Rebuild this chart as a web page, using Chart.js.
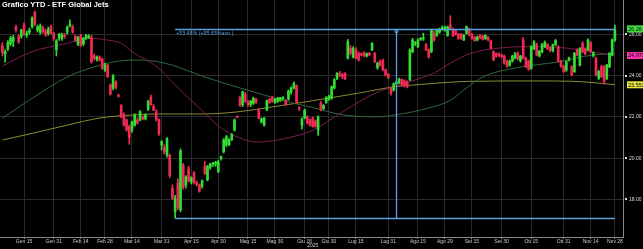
<!DOCTYPE html>
<html>
<head>
<meta charset="utf-8">
<script src="https://cdn.jsdelivr.net/npm/chart.js@4.4.1/dist/chart.umd.min.js"></script>
<style>
  html, body { margin: 0; padding: 0; background: #000; }
  #wrap { width: 643px; height: 249px; }
</style>
</head>
<body>
<div id="wrap"><canvas id="jetsChart" width="643" height="249"></canvas></div>
<script>
const chartTitle = 'Grafico YTD - ETF Global Jets';

// daily candles, one entry per trading day (Jan 2 .. Nov 28 2025)
const opens = [
  25.45,25.05,25.30,25.55,25.65,26.35,25.90,25.90,26.45,25.95,26.10,26.35,27.05,26.20,26.10,26.30,26.15,26.05,26.35,26.05,
  25.25,25.80,25.80,25.95,26.10,26.40,26.35,25.90,25.53,25.95,25.53,25.80,25.85,25.85,24.95,24.78,24.90,24.80,24.27,
  24.51,23.55,23.40,23.70,23.05,22.55,22.10,21.85,21.53,21.36,21.60,21.85,21.85,22.00,21.90,22.38,22.95,22.50,22.25,21.85,20.64,
  20.50,20.15,20.15,18.55,17.41,18.80,17.50,19.65,18.70,19.47,18.85,19.30,18.80,18.70,18.65,19.60,18.95,19.55,19.70,19.72,19.35,
  19.98,20.31,20.64,20.65,20.90,21.37,22.02,22.90,22.58,23.10,22.70,22.60,22.65,22.85,22.33,21.75,21.60,22.33,22.85,22.95,22.70,
  22.75,22.80,22.88,22.80,22.87,23.20,23.40,23.50,22.45,21.60,21.95,22.00,21.85,21.95,21.80,21.37,22.67,22.40,22.70,22.85,
  22.90,23.40,23.87,24.10,24.05,24.10,24.84,25.32,24.90,25.25,25.08,25.05,25.10,24.95,25.08,25.24,25.08,24.38,24.70,24.75,24.27,24.07,
  23.41,23.30,23.62,23.64,23.80,23.75,23.70,23.80,25.16,25.55,25.40,25.75,25.78,25.50,25.24,25.16,26.05,25.95,26.10,26.25,26.20,
  25.95,26.45,26.20,26.15,26.00,26.00,25.72,26.05,26.26,26.00,25.85,25.72,25.95,25.90,25.78,25.85,25.68,25.16,25.05,25.05,24.98,
  24.94,24.70,24.50,24.70,24.85,25.08,24.72,25.72,24.84,24.70,24.35,25.30,25.50,24.95,25.15,25.40,25.50,25.35,25.20,25.50,25.40,24.70,24.45,
  24.27,24.75,24.43,24.19,25.25,24.51,25.56,25.30,25.24,25.60,24.95,24.84,23.87,24.43,24.43,23.87,24.43,25.00,25.72
];
const highs = [
  25.60,25.25,25.70,25.90,25.95,26.45,26.00,26.25,26.55,26.15,26.30,26.85,27.12,26.45,26.50,26.40,26.25,26.35,26.45,26.10,
  25.75,26.05,26.05,26.05,26.40,26.70,26.45,25.95,25.90,26.00,25.85,26.00,25.98,25.95,25.05,24.95,24.95,24.85,24.60,
  24.55,23.60,24.05,23.75,23.10,22.60,22.20,21.90,21.60,21.80,22.15,21.95,22.30,22.05,22.15,22.80,23.05,22.60,22.35,21.90,20.85,
  20.65,21.00,20.20,18.70,18.20,19.00,20.45,19.75,19.15,19.60,19.10,19.35,18.90,18.75,18.95,19.85,19.65,19.75,19.80,19.85,19.90,
  20.10,20.95,21.10,20.95,21.20,21.90,22.05,23.00,23.25,23.20,22.80,22.80,22.95,22.90,22.40,21.95,21.98,22.82,22.90,23.00,22.90,
  22.95,22.95,22.98,22.85,23.30,23.45,23.70,23.55,22.50,21.95,22.38,22.05,21.90,22.00,21.85,22.05,22.75,22.60,22.98,23.05,
  23.50,23.85,24.15,24.20,24.10,24.15,25.75,25.45,25.40,25.35,25.15,25.10,25.15,25.10,25.12,25.60,25.12,24.65,24.75,24.80,24.32,24.10,
  23.45,23.65,23.72,23.88,23.85,23.80,23.75,25.30,25.80,25.65,25.78,25.85,26.05,25.55,25.30,26.25,26.15,26.25,26.30,26.40,26.40,
  26.40,26.90,26.30,26.20,26.05,26.05,26.00,26.40,26.30,26.05,25.90,25.92,26.00,25.95,25.98,25.90,25.72,25.20,25.10,25.10,25.05,
  25.00,24.75,24.75,24.98,25.12,25.15,24.98,25.85,24.90,24.75,25.45,25.70,25.58,25.22,25.55,25.68,25.55,25.40,25.52,25.75,25.45,24.75,24.50,
  24.72,24.90,24.48,25.12,25.30,25.36,25.65,25.35,25.78,25.65,25.15,24.90,24.25,24.50,24.48,24.55,25.12,25.78,26.45
];
const lows = [
  24.95,24.65,25.20,25.45,25.40,26.10,25.55,25.80,25.95,25.85,26.00,26.30,26.40,26.10,26.00,26.05,25.90,25.95,26.00,25.70,
  24.95,25.70,25.70,25.80,26.00,26.35,26.05,25.65,25.45,25.40,25.45,25.75,25.80,24.60,24.75,24.70,24.70,24.30,24.20,
  23.90,23.05,23.30,23.35,22.95,21.95,21.55,21.30,20.67,21.25,21.55,21.65,21.80,21.85,21.85,22.30,22.55,22.30,21.80,21.10,20.40,
  20.20,20.05,19.05,18.00,17.11,17.50,17.40,18.50,18.55,18.85,18.75,18.75,18.65,18.35,18.55,19.20,18.90,19.45,19.60,19.60,19.30,
  19.90,20.25,20.55,20.60,20.85,21.30,21.95,22.50,22.50,22.70,22.50,22.50,22.60,22.65,21.90,21.70,21.55,22.30,22.65,22.70,22.65,
  22.70,22.75,22.82,22.55,22.80,23.10,23.35,22.65,22.30,21.40,21.90,21.65,21.55,21.50,21.50,21.10,22.30,22.35,22.65,22.80,
  22.85,23.35,23.80,23.95,23.85,23.80,24.80,25.00,24.85,24.80,24.70,24.95,24.90,24.90,24.95,25.20,24.62,24.30,24.45,24.22,23.98,23.85,
  23.05,23.25,23.55,23.60,23.50,23.45,23.40,23.75,25.10,25.45,25.35,25.70,25.70,25.20,24.85,25.10,25.65,25.90,26.05,26.20,26.15,
  25.90,26.25,25.88,25.95,25.75,25.75,25.70,26.00,25.92,25.75,25.65,25.68,25.78,25.72,25.75,25.68,25.28,24.72,24.88,24.92,24.85,
  24.55,24.40,24.45,24.65,24.80,24.75,24.65,24.80,24.38,24.25,24.30,25.25,24.95,24.90,25.10,25.35,25.25,25.15,25.15,25.45,24.65,24.40,24.15,
  24.20,24.70,23.98,24.15,24.95,24.45,25.10,25.00,25.20,25.10,24.90,23.98,23.80,23.90,23.60,23.80,24.38,24.95,25.65
];
const closes = [
  25.10,25.15,25.60,25.80,25.85,26.20,25.65,26.20,26.05,26.05,26.20,26.80,26.50,26.35,26.40,26.10,26.00,26.25,26.05,25.80,
  25.68,26.00,25.98,25.90,26.35,26.48,26.10,25.70,25.85,25.47,25.80,25.95,25.90,24.67,24.85,24.90,24.75,24.37,24.51,
  23.95,23.10,24.00,23.40,23.00,22.00,21.60,21.37,21.00,21.75,22.10,21.70,22.25,21.90,22.10,22.74,22.60,22.33,21.85,21.17,20.80,
  20.30,20.95,19.15,18.06,18.06,17.60,20.35,18.60,19.10,18.90,19.05,18.80,18.72,18.40,18.90,19.27,19.60,19.72,19.76,19.80,19.83,
  20.07,20.88,21.04,20.90,21.15,21.85,21.98,22.58,23.20,22.75,22.55,22.75,22.90,22.70,21.93,21.90,21.93,22.77,22.70,22.75,22.85,
  22.90,22.92,22.94,22.60,23.25,23.40,23.60,22.70,22.40,21.90,22.33,21.70,21.60,21.53,21.55,22.00,22.35,22.55,22.93,23.00,
  23.46,23.80,24.10,24.00,23.95,23.85,25.64,25.08,25.32,24.84,24.76,25.00,24.95,25.05,25.00,25.56,24.67,24.60,24.50,24.27,24.03,23.90,
  23.14,23.60,23.68,23.83,23.55,23.50,23.45,25.24,25.72,25.60,25.72,25.80,25.82,25.24,24.90,26.20,25.72,26.20,26.25,26.32,26.35,
  26.35,26.30,25.92,26.00,25.80,25.80,25.95,26.37,25.97,25.80,25.70,25.88,25.82,25.76,25.94,25.72,25.32,24.76,24.94,24.98,24.92,
  24.60,24.45,24.70,24.94,25.05,24.80,24.94,24.84,24.43,24.30,25.40,25.62,25.00,25.18,25.50,25.60,25.30,25.20,25.50,25.70,24.70,24.45,24.20,
  24.67,24.85,24.03,25.08,25.00,25.32,25.16,25.05,25.72,25.16,25.10,24.03,24.19,23.95,23.70,24.51,25.08,25.72,26.26
];

// moving averages (trading-day index, value)
const ma50Idx = [0, 11, 24, 32, 39, 44, 48, 58, 64, 73, 81, 88, 94, 102, 110, 115, 126, 139, 145, 151, 160, 166, 173, 184, 197, 209, 219, 227];
const ma50Val = [24.46, 25.16, 25.56, 25.80, 25.72, 25.56, 25.16, 24.35, 23.54, 22.43, 21.46, 20.98, 20.78, 20.88, 21.12, 21.35, 22.24, 23.20, 23.45, 23.70, 24.13, 24.60, 25.05, 25.33, 25.40, 25.33, 25.14, 24.973];
const ma100Idx = [0, 11, 24, 34, 43, 51, 58, 63, 75, 88, 97, 106, 115, 126, 139, 146, 158, 166, 172, 178, 190, 206, 219, 227];
const ma100Val = [21.94, 22.90, 23.93, 24.42, 24.70, 24.75, 24.66, 24.50, 23.93, 23.40, 23.06, 22.72, 22.45, 22.10, 22.00, 22.10, 22.43, 22.80, 23.40, 23.93, 24.37, 24.66, 25.00, 25.05];
const ma200Idx = [0, 11, 24, 36, 48, 58, 75, 87, 100, 115, 132, 145, 158, 173, 197, 215, 227];
const ma200Val = [20.88, 21.20, 21.60, 21.94, 22.09, 22.14, 22.14, 22.24, 22.48, 22.78, 23.15, 23.45, 23.60, 23.72, 23.74, 23.70, 23.553];

// axis ticks
const xTickIdx = [8, 19, 29, 38, 48, 59, 70, 80, 91, 101, 112, 121, 131, 143, 154, 164, 174, 185, 196, 208, 218, 227];
const xTickLabels = ['Gen 15', 'Gen 31', 'Feb 14', 'Feb 28', 'Mar 14', 'Mar 31', 'Apr 15', 'Apr 30', 'Mag 15', 'Mag 30', 'Giu 16',
  'Giu 30', 'Lug 15', 'Lug 31', 'Ago 15', 'Ago 29', 'Set 15', 'Set 30', 'Ott 15', 'Ott 31', 'Nov 14', 'Nov 28'];
const yTicks = [18, 20, 22, 24, 26];
const yearLabel = '2025';
const yearLabelIdx = 115;

// low-to-last range measure
const rangeStart = 64, rangeEnd = 227, rangeMark = 146;
const rangeHigh = 26.26, rangeLow = 17.11;
const rangeText = '+53.48% (+95.63%ann.)';

const upColor = '#33dd33';
const downColor = '#ee2a55';
const fontFamily = '"Liberation Sans", Arial, sans-serif';

const tags = [
  { value: closes[closes.length - 1], text: closes[closes.length - 1].toFixed(2), bg: '#3fe03f' },
  { value: ma50Val[ma50Val.length - 1], text: '24.973', bg: '#ff33b0' },
  { value: ma200Val[ma200Val.length - 1], text: '23.553', bg: '#e6e640' }
];

const overlay = {
  id: 'overlay',
  beforeDraw(chart) {
    const ctx = chart.ctx;
    ctx.save();
    ctx.fillStyle = '#000';
    ctx.fillRect(0, 0, chart.width, chart.height);
    ctx.restore();
  },
  afterDraw(chart) {
    const { ctx, scales: { x, y } } = chart;
    ctx.save();

    ctx.font = 'bold 7.5px ' + fontFamily;
    ctx.fillStyle = '#ffffff';
    ctx.textBaseline = 'middle';
    ctx.textAlign = 'left';
    ctx.fillText(chartTitle, 2, 5);

    const x0 = x.getPixelForValue(rangeStart);
    const x1 = x.getPixelForValue(rangeEnd);
    const xm = Math.round(x.getPixelForValue(rangeMark)) + 0.5;
    const yt = Math.round(y.getPixelForValue(rangeHigh)) + 0.5;
    const yb = Math.round(y.getPixelForValue(rangeLow)) + 0.5;
    ctx.strokeStyle = '#5b9fe3';
    ctx.lineWidth = 1.3;
    ctx.beginPath();
    ctx.moveTo(x0, yt); ctx.lineTo(x1, yt);
    ctx.moveTo(x0, yb); ctx.lineTo(x1, yb);
    ctx.moveTo(xm, yt); ctx.lineTo(xm, yb);
    ctx.stroke();
    ctx.lineWidth = 1;
    ctx.beginPath();
    ctx.arc(xm, yt + 2, 1.6, 0, Math.PI * 2);
    ctx.stroke();
    ctx.font = '5.3px ' + fontFamily;
    ctx.fillStyle = '#5b9fe3';
    ctx.fillText(rangeText, x0 + 1, yt + 4);

    // y tick squares
    ctx.fillStyle = '#dddddd';
    yTicks.forEach(v => {
      const py = Math.round(y.getPixelForValue(v));
      ctx.fillRect(chart.chartArea.right + 2, py - 1, 2, 2);
    });

    // last value tags
    ctx.font = '5.5px ' + fontFamily;
    tags.forEach(t => {
      const py = y.getPixelForValue(t.value);
      ctx.fillStyle = t.bg;
      ctx.fillRect(627, py - 3.5, 17, 7);
      ctx.fillStyle = '#000';
      ctx.fillText(t.text, 628, py + 0.3);
    });

    ctx.font = '5px ' + fontFamily;
    ctx.fillStyle = '#cccccc';
    ctx.textAlign = 'center';
    ctx.fillText(yearLabel, x.getPixelForValue(yearLabelIdx), 246);
    ctx.restore();
  }
};

const candleColors = closes.map((c, i) => (c >= opens[i] ? upColor : downColor));

new Chart(document.getElementById('jetsChart').getContext('2d'), {
  type: 'bar',
  data: {
    datasets: [
      {
        label: 'body',
        data: closes.map((c, i) => ({ x: i, y: [opens[i], c] })),
        backgroundColor: candleColors,
        barThickness: 2,
        minBarLength: 1,
        grouped: false,
        order: 1
      },
      {
        label: 'wick',
        data: closes.map((c, i) => ({ x: i, y: [lows[i], highs[i]] })),
        backgroundColor: candleColors,
        barThickness: 1,
        grouped: false,
        order: 2
      },
      {
        type: 'line',
        label: 'MA50',
        data: ma50Idx.map((v, i) => ({ x: v, y: ma50Val[i] })),
        borderColor: '#7d1e4e',
        borderWidth: 1,
        pointRadius: 0,
        cubicInterpolationMode: 'monotone',
        order: 3
      },
      {
        type: 'line',
        label: 'MA100',
        data: ma100Idx.map((v, i) => ({ x: v, y: ma100Val[i] })),
        borderColor: '#2f6a3c',
        borderWidth: 1,
        pointRadius: 0,
        cubicInterpolationMode: 'monotone',
        order: 4
      },
      {
        type: 'line',
        label: 'MA200',
        data: ma200Idx.map((v, i) => ({ x: v, y: ma200Val[i] })),
        borderColor: '#8a8a30',
        borderWidth: 1,
        pointRadius: 0,
        cubicInterpolationMode: 'monotone',
        order: 5
      }
    ]
  },
  options: {
    responsive: false,
    animation: false,
    layout: { padding: 0 },
    plugins: {
      legend: { display: false },
      tooltip: { enabled: false }
    },
    scales: {
      x: {
        type: 'linear',
        min: -0.91,
        max: 230,
        offset: false,
        afterBuildTicks: scale => { scale.ticks = xTickIdx.map(v => ({ value: v })); },
        afterFit: scale => {
          scale.height = 12;
          scale.paddingLeft = 0;
          scale.paddingRight = 0;
        },
        grid: { color: '#2a2a2a', offset: false, tickLength: 2, tickColor: '#888' },
        border: { color: '#888' },
        ticks: {
          autoSkip: false,
          maxRotation: 0,
          padding: 0,
          color: '#cccccc',
          font: { family: fontFamily, size: 5 },
          callback: (v, i) => xTickLabels[i]
        }
      },
      y: {
        type: 'linear',
        position: 'right',
        min: 16.18,
        max: 27.66,
        afterBuildTicks: scale => { scale.ticks = yTicks.map(v => ({ value: v })); },
        afterFit: scale => {
          scale.width = 20;
          scale.paddingTop = 0;
          scale.paddingBottom = 0;
        },
        grid: { color: '#2a2a2a', drawTicks: false },
        border: { color: '#888' },
        ticks: {
          padding: 6,
          color: '#dddddd',
          font: { family: fontFamily, size: 5 },
          callback: v => v.toFixed(2)
        }
      }
    }
  },
  plugins: [overlay]
});
</script>
</body>
</html>
